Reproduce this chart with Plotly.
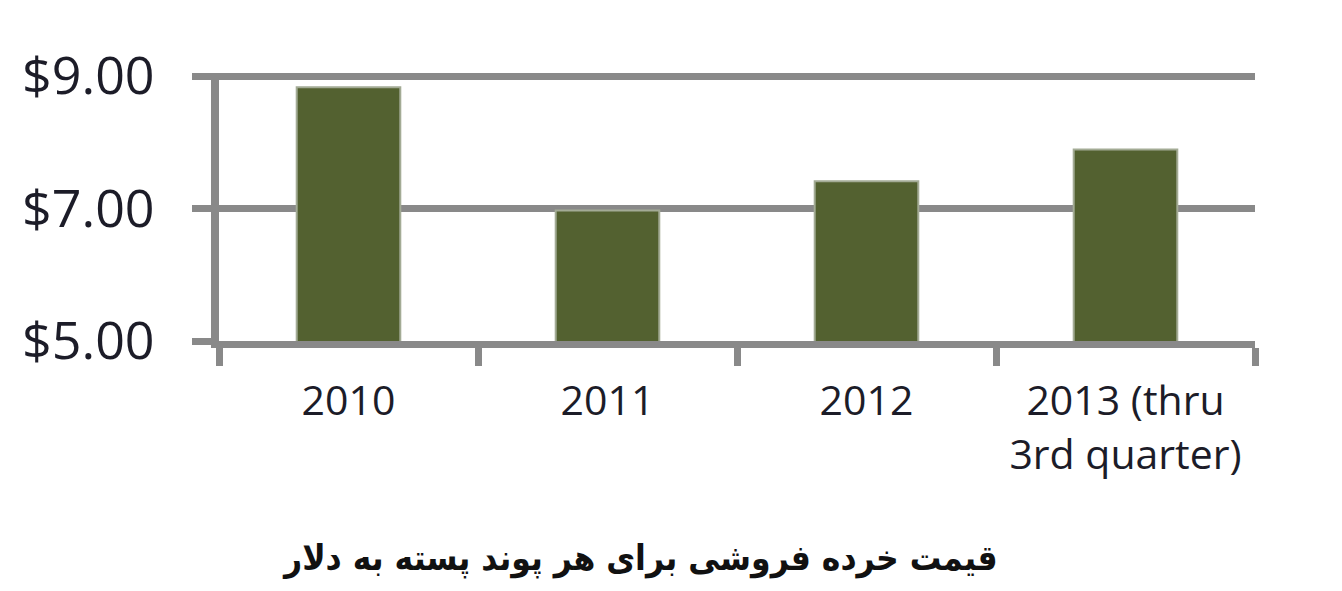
import plotly.graph_objects as go

categories = ["2010", "2011", "2012", "2013 (thru<br>3rd quarter)"]
prices = [8.83, 6.97, 7.41, 7.89]
y_ticks = [5, 7, 9]
y_tick_labels = ["$5.00", "$7.00", "$9.00"]
title_text = "قیمت خرده فروشی برای هر پوند پسته به دلار"

GRAY = "#898989"
BAR = "#536130"

fig = go.Figure(
    go.Bar(
        x=categories,
        y=prices,
        marker=dict(color=BAR, line=dict(color="#a3ab95", width=2)),
        width=0.4,
    )
)

# page has an 8px body margin, so the figure is drawn 8px smaller
W, H = 1326, 575
PX_PER_UNIT = 66.25
Y_TOP = 9 + 3 / PX_PER_UNIT  # a little headroom so the $9 gridline is drawn
L = 211
PR, PB = 1247, 333  # right / bottom of plot area in figure coords
T = round(PB - (Y_TOP - 5) * PX_PER_UNIT)
R, B = W - PR, H - PB

fig.update_layout(
    width=W,
    height=H,
    margin=dict(l=L, r=R, t=T, b=B, pad=0, autoexpand=False),
    paper_bgcolor="white",
    plot_bgcolor="white",
    showlegend=False,
    font=dict(family="Open Sans", color="#1c1c28"),
)

fig.update_yaxes(
    range=[5, Y_TOP],
    tickvals=y_ticks,
    ticktext=y_tick_labels,
    showgrid=True,
    gridcolor=GRAY,
    gridwidth=7,
    zeroline=False,
    showline=True,
    linecolor=GRAY,
    linewidth=8,
    ticks="outside",
    ticklen=19,
    tickwidth=7,
    tickcolor=GRAY,
    tickfont=dict(size=52, family="Open Sans", color="#1c1c28"),
    ticklabelstandoff=27,
    automargin=False,
)

fig.update_xaxes(
    showgrid=False,
    showline=True,
    linecolor=GRAY,
    linewidth=7,
    ticks="outside",
    tickson="boundaries",
    ticklen=18,
    tickwidth=7,
    tickcolor=GRAY,
    tickangle=0,
    tickfont=dict(size=41, family="Open Sans", color="#1c1c28"),
    ticklabelstandoff=18,
    automargin=False,
)

fig.add_annotation(
    text="<b>" + title_text + "</b>",
    xref="paper",
    yref="paper",
    x=(632 - L) / (PR - L),
    y=(PB - 550) / (PB - T),
    xanchor="center",
    yanchor="middle",
    showarrow=False,
    font=dict(size=35, family="DejaVu Sans Condensed", color="#111111"),
)

fig.write_html("out.html")
